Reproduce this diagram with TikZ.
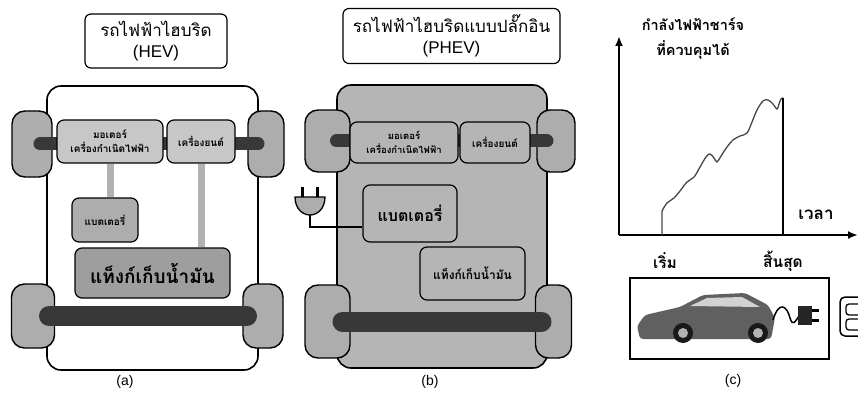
\documentclass[tikz,border=0pt]{standalone}
\usepackage{fontspec}
\setmainfont{Liberation Sans}
\newfontfamily\thaifont[Script=Thai]{Loma}
\usepackage{tikz}
\usetikzlibrary{positioning, calc, arrows.meta}
\definecolor{wheelgray}{gray}{0.68}
\definecolor{partgray}{gray}{0.78}
\definecolor{tankgray}{gray}{0.62}
\definecolor{axlegray}{gray}{0.22}
\definecolor{linkgray}{gray}{0.70}
\definecolor{chassisgray}{gray}{0.71}

\begin{document}
\begin{tikzpicture}[x=1pt, y=-1pt,
  titlebox/.style={draw, rounded corners=6pt, line width=1.2pt, align=center, inner sep=0pt, font=\fontsize{17}{21}\selectfont},
  part/.style={draw, rounded corners=7pt, line width=1.2pt, fill=partgray, align=center, inner sep=0pt, font=\thaifont\bfseries\fontsize{10}{14}\selectfont},
  wheel/.style={draw, rounded corners=13pt, line width=1.4pt, fill=wheelgray, inner sep=0pt},
  axle/.style={draw=axlegray, line cap=round},
  link/.style={draw=linkgray, line width=7pt},
  axis/.style={line width=2.4pt, -{Latex[length=10pt,width=8pt]}},
  thlabel/.style={font=\thaifont\bfseries\fontsize{14.5}{25}\selectfont, align=center},
  sublabel/.style={font=\fontsize{14}{16}\selectfont}
]
\useasboundingbox (0,0) rectangle (858,398);

% (a) HEV
\node[titlebox, minimum width=142pt, minimum height=54pt] (hevtitle) at (156,41) {{\thaifont รถไฟฟ้าไฮบริด}\\(HEV)};
\draw[line width=1.6pt, rounded corners=14pt, fill=white] (47,86) rectangle (258,370);
\node[wheel, minimum width=40pt, minimum height=66pt] (afl) at (32,144) {};
\node[wheel, minimum width=36pt, minimum height=66pt] (afr) at (266,144) {};
\node[wheel, minimum width=43pt, minimum height=64pt] (arl) at (33,316) {};
\node[wheel, minimum width=40pt, minimum height=64pt] (arr) at (263,316) {};
\draw[axle, line width=13pt, shorten <=8pt, shorten >=8pt] (afl.center) -- (afr.center);
\draw[axle, line width=20pt, shorten <=16pt, shorten >=16pt] (arl.center) -- (arr.center);
\node[part, minimum width=106pt, minimum height=43pt] (amotor) at (110,141.5) {มอเตอร์\\เครื่องกำเนิดไฟฟ้า};
\node[part, minimum width=68pt, minimum height=43pt] (aengine) at (201,141.5) {เครื่องยนต์};
\node[part, minimum width=66pt, minimum height=44pt, fill=wheelgray] (abat) at (105,220) {แบตเตอรี่};
\node[part, minimum width=155pt, minimum height=50pt, fill=tankgray, font=\thaifont\bfseries\fontsize{19}{21}\selectfont] (atank) at (152.5,273) {แท็งก์เก็บน้ำมัน};
\draw[link] (amotor.south) -- (amotor.south |- abat.north);
\draw[link] (aengine.south) -- (aengine.south |- atank.north);
\node[sublabel] (alabel) at (125,382) {(a)};

% (b) PHEV
\node[titlebox, minimum width=217pt, minimum height=55pt] (phevtitle) at (451.5,36) {{\thaifont รถไฟฟ้าไฮบริดแบบปลั๊กอิน}\\(PHEV)};
\draw[line width=1.6pt, rounded corners=14pt, fill=chassisgray] (337,85) rectangle (547,368);
\node[wheel, minimum width=45pt, minimum height=62pt] (bfl) at (327.5,141) {};
\node[wheel, minimum width=38pt, minimum height=62pt] (bfr) at (556,141) {};
\node[wheel, minimum width=45pt, minimum height=73pt] (brl) at (327.5,321.5) {};
\node[wheel, minimum width=36pt, minimum height=73pt] (brr) at (553.5,321.5) {};
\draw[axle, line width=13pt, shorten <=9pt, shorten >=9pt] (bfl.center) -- (bfr.center);
\draw[axle, line width=20pt, shorten <=15pt, shorten >=12pt] (brl.center) -- (brr.center);
\node[part, fill=chassisgray, minimum width=108pt, minimum height=41pt, font=\thaifont\bfseries\fontsize{9.5}{14}\selectfont] (bmotor) at (404,142.5) {มอเตอร์\\เครื่องกำเนิดไฟฟ้า};
\node[part, fill=chassisgray, minimum width=70pt, minimum height=41pt] (bengine) at (495,142.5) {เครื่องยนต์};
\node[part, fill=chassisgray, minimum width=94pt, minimum height=57pt, font=\thaifont\bfseries\fontsize{16}{18}\selectfont] (bbat) at (410,213.5) {แบตเตอรี่};
\node[part, fill=chassisgray, minimum width=105pt, minimum height=53pt, font=\thaifont\bfseries\fontsize{12}{14}\selectfont] (btank) at (472.5,273.5) {แท็งก์เก็บน้ำมัน};
% plug and cord
\coordinate (plug) at (310,215);
\draw[line width=2pt] (plug) |- ([yshift=-13pt]bbat.west);
\begin{scope}[shift={(plug)}, line width=1.3pt]
  \fill (-9,-18) rectangle (-6,-28);
  \fill (6,-18) rectangle (9,-28);
  \draw[fill=wheelgray] (-15,-18) -- (15,-18) .. controls (15,-6) and (7,0) .. (0,0)
    .. controls (-7,0) and (-15,-6) .. (-15,-18) -- cycle;
\end{scope}
\node[sublabel] (blabel) at (430,382) {(b)};

% (c) charging curve
\coordinate (org) at (619,235);
\coordinate (ytop) at (619,36);
\coordinate (xend) at (858,235);
\coordinate (start) at (662,235);
\coordinate (stop) at (783,235);
\draw[axis] (org) -- (ytop);
\draw[axis] (org) -- (xend);
\node[thlabel] (powlabel) at (693,39) {กำลังไฟฟ้าชาร์จ\\ที่ควบคุมได้};
\node[thlabel, font=\thaifont\bfseries\fontsize{17}{20}\selectfont] (timelabel) at (816,215) {เวลา};
\node[thlabel, font=\thaifont\bfseries\fontsize{15.5}{20}\selectfont] (startlabel) at (665,261) {เริ่ม};
\node[thlabel, font=\thaifont\bfseries\fontsize{15.5}{20}\selectfont] (stoplabel) at (783,261) {สิ้นสุด};
\draw[line width=1.3pt, gray!55!black] (start) -- (662,211)
  plot[smooth, tension=0.6] coordinates {(662,211) (667,203) (674,198) (680,191) (687,182)
  (694,177) (700,167) (706,157) (710,154) (714,158) (717,162) (721,156) (727,147)
  (733,140) (740,136) (747,133) (752,122) (757,110) (763,101) (768,100) (773,104)
  (777,109) (779,104) (781,99) (783,98)};
\draw[line width=2pt] (783,98) -- (stop);

% plug-in car
\node[draw, line width=1.5pt, minimum width=199pt, minimum height=81pt, inner sep=0pt] (carbox) at (729.5,318.5) {};
\fill[gray!75!black, rounded corners=3pt] (640,339) -- (637,326) -- (645,315) -- (680,307)
  -- (703,295) -- (745,293) -- (768,305) -- (775,318) -- (771,339) -- cycle;
\fill[gray!35] (690,306) -- (707,298) -- (742,297) -- (760,307) -- cycle;
\fill[gray!20!black] (683,333) circle (10);
\fill[gray!20!black] (758,333) circle (10);
\fill[gray!60] (683,333) circle (5);
\fill[gray!60] (758,333) circle (5);
\draw[line width=1.5pt] (773,320) .. controls (779,300) and (787,306) .. (790,318)
  .. controls (793,328) and (796,320) .. (799,316);
\fill[gray!30!black] (798,306) rectangle (812,325);
\fill (812,309) rectangle (819,312);
\fill (812,319) rectangle (819,322);
% battery mark at the edge
\draw[line width=1.5pt, rounded corners=5pt] (840,297) rectangle (874,336);
\draw[line width=1.3pt, rounded corners=3pt] (846,304) rectangle (870,315);
\draw[line width=1.3pt, rounded corners=3pt] (846,319) rectangle (870,330);
\node[sublabel] (clabel) at (733,381) {(c)};
\end{tikzpicture}
\end{document}
